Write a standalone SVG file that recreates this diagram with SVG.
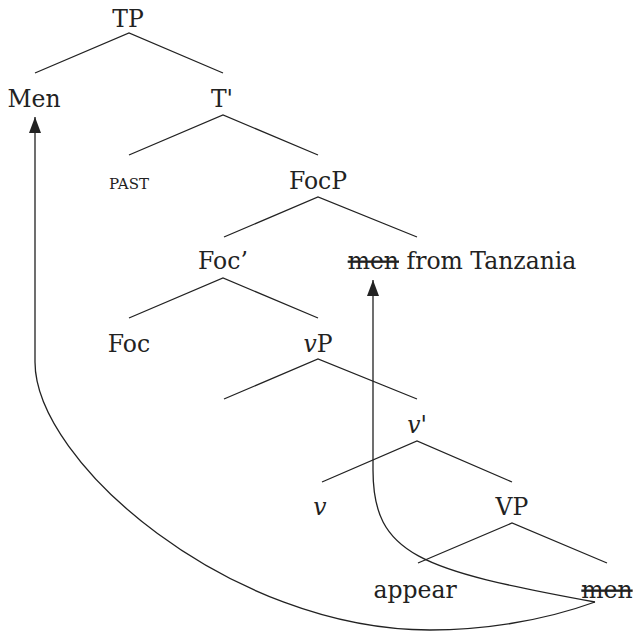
<svg xmlns="http://www.w3.org/2000/svg" width="633" height="632" viewBox="0 0 633 632">
  <style>
    .lbl { font-family: "DejaVu Serif", "Liberation Serif", serif; font-size: 23.5px; fill: #222; text-anchor: middle; }
    .sc { font-size: 15px; }
    .it { font-style: italic; }
    .del { text-decoration: line-through; }
    .edge { stroke: #222; stroke-width: 1.3; fill: none; }
    .move { stroke: #222; stroke-width: 1.3; fill: none; marker-end: url(#head); }
  </style>
  <defs>
    <marker id="head" viewBox="0 0 16 12" refX="16" refY="6" markerWidth="16" markerHeight="12" markerUnits="userSpaceOnUse" orient="auto">
      <path d="M0,0 L16,6 L0,12 Z" fill="#222"/>
    </marker>
  </defs>
  <rect width="633" height="632" fill="#fff"/>

  <g id="TP"><text class="lbl" x="128" y="27">TP</text></g>
  <g id="Men"><text class="lbl" x="34" y="107">Men</text></g>
  <g id="Tbar"><text class="lbl" x="222" y="107">T'</text></g>
  <g id="PAST"><text class="lbl sc" x="129" y="189">PAST</text></g>
  <g id="FocP"><text class="lbl" x="318" y="189">FocP</text></g>
  <g id="Focbar"><text class="lbl" x="223" y="269">Foc’</text></g>
  <g id="subject"><text class="lbl" x="462" y="269"><tspan class="del">men</tspan> from Tanzania</text></g>
  <g id="Foc"><text class="lbl" x="129" y="352">Foc</text></g>
  <g id="vP"><text class="lbl" x="318" y="352"><tspan class="it">v</tspan>P</text></g>
  <g id="vbar"><text class="lbl" x="417" y="433"><tspan class="it">v</tspan>'</text></g>
  <g id="v"><text class="lbl it" x="320" y="515">v</text></g>
  <g id="VP"><text class="lbl" x="512" y="515">VP</text></g>
  <g id="appear"><text class="lbl" x="415" y="598">appear</text></g>
  <g id="men"><text class="lbl del" x="607" y="598">men</text></g>

  <g id="connectors">
    <path class="edge" d="M35,73 L129,33 L223,73"/>
    <path class="edge" d="M129,155 L223,115 L318,155"/>
    <path class="edge" d="M224,237 L318,197 L417,237"/>
    <path class="edge" d="M129,318 L223,278 L318,318"/>
    <path class="edge" d="M224,399 L318,359 L417,399"/>
    <path class="edge" d="M322,482 L417,441 L512,482"/>
    <path class="edge" d="M418,563 L512,523 L607,563"/>
    <!-- movement arrows -->
    <path class="move" d="M595,602 C540,622 480,630 430,630 C230,630 35,462 35,362 L35,117"/>
    <path class="move" d="M595,602 C420,570 373,555 373,470 L373,280"/>
  </g>
</svg>
